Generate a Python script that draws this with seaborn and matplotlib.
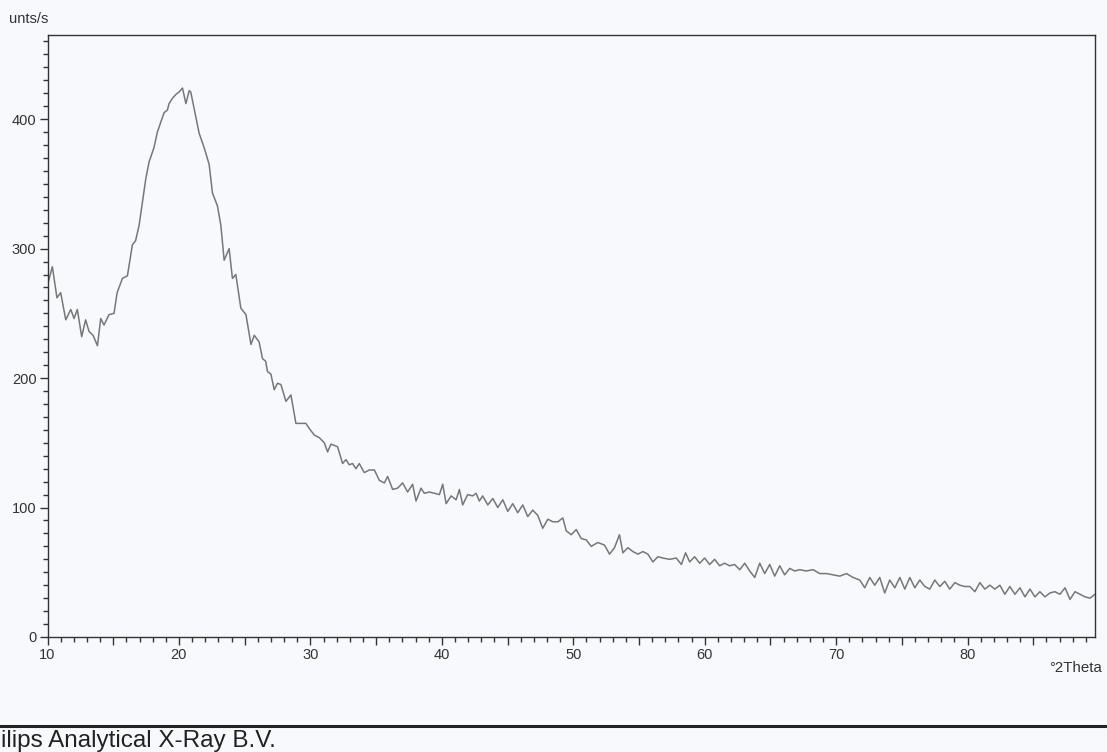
import matplotlib
matplotlib.use("Agg")
import matplotlib.pyplot as plt
import seaborn as sns
import pandas as pd
from matplotlib.ticker import MultipleLocator, FuncFormatter
from matplotlib.lines import Line2D

# ---- data ----
two_theta = [
    10.00, 10.37, 10.72, 11.00, 11.39, 11.77, 12.02, 12.27, 12.60, 12.90,
    13.16, 13.47, 13.80, 14.05, 14.30, 14.68, 15.06, 15.30, 15.70, 16.08,
    16.46, 16.70, 16.97, 17.48, 17.73, 18.10, 18.36, 18.87, 19.12, 19.25,
    19.50, 19.76, 20.01, 20.27, 20.53, 20.78, 20.90, 21.16, 21.54, 21.92,
    22.30, 22.55, 22.93, 23.19, 23.44, 23.82, 24.07, 24.33, 24.71, 25.10,
    25.48, 25.73, 26.10, 26.36, 26.60, 26.74, 27.00, 27.25, 27.50, 27.76,
    28.14, 28.52, 28.90, 29.28, 29.66, 29.92, 30.30, 30.68, 31.06, 31.31,
    31.57, 32.07, 32.45, 32.71, 32.96, 33.21, 33.47, 33.72, 34.10, 34.49,
    34.87, 35.25, 35.63, 35.88, 36.26, 36.64, 37.02, 37.40, 37.78, 38.04,
    38.42, 38.67, 39.05, 39.43, 39.82, 40.07, 40.33, 40.71, 41.09, 41.34,
    41.59, 41.97, 42.35, 42.61, 42.86, 43.11, 43.50, 43.88, 44.26, 44.64,
    45.02, 45.40, 45.78, 46.16, 46.54, 46.92, 47.30, 47.68, 48.07, 48.45,
    48.83, 49.21, 49.47, 49.85, 50.23, 50.61, 50.99, 51.37, 51.87, 52.38,
    52.76, 53.14, 53.52, 53.78, 54.16, 54.54, 54.92, 55.30, 55.68, 56.06,
    56.44, 56.82, 57.33, 57.84, 58.23, 58.55, 58.86, 59.24, 59.62, 60.00,
    60.38, 60.76, 61.14, 61.52, 61.90, 62.28, 62.67, 63.05, 63.43, 63.81,
    64.19, 64.57, 64.95, 65.33, 65.71, 66.09, 66.47, 66.85, 67.23, 67.74,
    68.25, 68.76, 69.27, 69.77, 70.28, 70.79, 71.29, 71.80, 72.18, 72.56,
    72.94, 73.32, 73.70, 74.08, 74.47, 74.85, 75.23, 75.61, 75.99, 76.37,
    76.75, 77.13, 77.51, 77.89, 78.27, 78.65, 79.04, 79.42, 79.80, 80.18,
    80.56, 80.94, 81.32, 81.70, 82.08, 82.46, 82.84, 83.22, 83.61, 83.99,
    84.37, 84.75, 85.13, 85.51, 85.89, 86.27, 86.65, 87.03, 87.42, 87.80,
    88.18, 88.56, 88.94, 89.32, 89.70,
]
counts = [
    272, 286, 262, 266, 245, 253, 246, 253, 232, 245,
    236, 233, 225, 246, 241, 249, 250, 266, 277, 279,
    303, 306, 318, 354, 367, 378, 390, 405, 407, 412,
    416, 419, 421, 424, 412, 422, 421, 408, 389, 378,
    365, 343, 333, 318, 291, 300, 277, 280, 254, 249,
    226, 233, 228, 215, 213, 205, 203, 191, 196, 195,
    182, 187, 165, 165, 165, 161, 156, 154, 150, 143,
    149, 147, 134, 137, 133, 134, 130, 134, 127, 129,
    129, 121, 119, 124, 114, 115, 119, 112, 118, 105,
    115, 111, 112, 111, 110, 118, 103, 109, 106, 114,
    102, 110, 109, 111, 105, 109, 102, 107, 100, 106,
    97, 103, 96, 102, 93, 98, 94, 84, 91, 89,
    89, 92, 82, 79, 83, 76, 75, 70, 73, 71,
    64, 69, 79, 65, 69, 66, 64, 66, 64, 58,
    62, 61, 60, 61, 56, 65, 58, 62, 57, 61,
    56, 60, 55, 57, 55, 56, 52, 57, 51, 46,
    57, 49, 56, 47, 55, 48, 53, 51, 52, 51,
    52, 49, 49, 48, 47, 49, 46, 44, 38, 46,
    40, 46, 34, 44, 38, 46, 37, 46, 38, 44,
    39, 37, 44, 39, 43, 37, 42, 40, 39, 39,
    35, 42, 37, 40, 37, 40, 33, 39, 33, 38,
    31, 37, 31, 35, 31, 34, 35, 33, 38, 29,
    35, 33, 31, 30, 33,
]

x_range = (10, 89.7)
y_range = (0, 465)
x_label = "°2Theta"
y_label = "unts/s"
footer = "ilips Analytical X-Ray B.V."

sns.set_style("ticks")
plt.rcParams["font.family"] = ["Liberation Sans", "DejaVu Sans"]

bg = "#f7f9fc"
W, H = 1107, 752
fig = plt.figure(figsize=(W / 100, H / 100), dpi=100, facecolor=bg)
ax = fig.add_axes([47.5 / W, 1 - 637 / H, (1095 - 47.5) / W, (637 - 35) / H])
ax.set_facecolor(bg)

df = pd.DataFrame({"two_theta": two_theta, "counts": counts})
sns.lineplot(data=df, x="two_theta", y="counts", ax=ax, color="#777777",
             linewidth=1.1, estimator=None, sort=False)

ax.set_xlim(*x_range)
ax.set_ylim(*y_range)
ax.set_xlabel("")
ax.set_ylabel("")

ax.xaxis.set_major_locator(MultipleLocator(5))
ax.xaxis.set_major_formatter(FuncFormatter(lambda v, p: f"{int(round(v))}" if round(v) % 10 == 0 else ""))
ax.xaxis.set_minor_locator(MultipleLocator(1))
ax.yaxis.set_major_locator(MultipleLocator(100))
ax.yaxis.set_minor_locator(MultipleLocator(10))

for s in ax.spines.values():
    s.set_visible(True)
    s.set_color("#333333")
    s.set_linewidth(1.0)

ax.tick_params(which="major", direction="out", length=6, width=1, color="#333333",
               labelsize=10.5, labelcolor="#333333", pad=2, top=False, right=False)
ax.tick_params(which="minor", direction="out", length=3.5, width=1, color="#333333",
               top=False, right=False)

fig.text(9 / W, 1 - 19 / H, y_label, ha="left", va="center", fontsize=10.5, color="#333333")
fig.text(1102 / W, 1 - 668 / H, x_label, ha="right", va="center", fontsize=10.8, color="#333333")

fig.add_artist(Line2D([0, 1], [1 - 726 / H, 1 - 726 / H], transform=fig.transFigure,
                      color="#222222", linewidth=2.2))
fig.text(1 / W, 1 - 741.5 / H, footer, ha="left", va="center", fontsize=17.5, color="#222222")

fig.savefig("out.png", dpi=100, facecolor=bg)
